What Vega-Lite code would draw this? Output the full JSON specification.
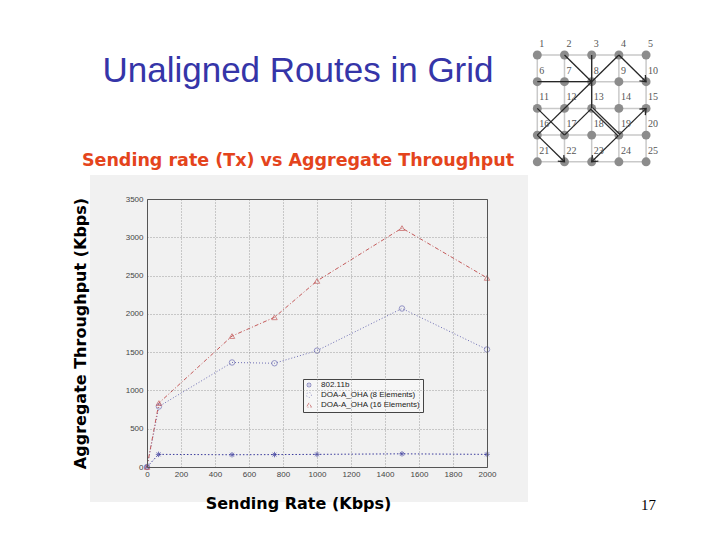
{
  "$schema": "https://vega.github.io/schema/vega-lite/v6.json",
  "width": 340,
  "height": 268,
  "autosize": {"type": "none"},
  "padding": {"left": 147, "top": 199, "right": 233, "bottom": 73},
  "background": "white",
  "config": {"view": {"stroke": null}, "axis": {"zindex": 1}},
  "title": {
    "text": "Unaligned Routes in Grid",
    "subtitle": "Sending rate (Tx) vs Aggregate Throughput",
    "anchor": "middle",
    "frame": "group",
    "dx": -19,
    "dy": 130,
    "offset": 0,
    "font": "Liberation Sans",
    "fontSize": 35,
    "fontWeight": "normal",
    "color": "#3535a8",
    "subtitleFont": "DejaVu Sans",
    "subtitleFontSize": 17.5,
    "subtitleFontWeight": "bold",
    "subtitleColor": "#e4441c",
    "subtitlePadding": 63
  },
  "datasets": {
    "series": [
      {"rate": 0, "throughput": 0, "series": "802.11b"},
      {"rate": 68, "throughput": 165, "series": "802.11b"},
      {"rate": 500, "throughput": 160, "series": "802.11b"},
      {"rate": 750, "throughput": 162, "series": "802.11b"},
      {"rate": 1000, "throughput": 165, "series": "802.11b"},
      {"rate": 1500, "throughput": 172, "series": "802.11b"},
      {"rate": 2000, "throughput": 165, "series": "802.11b"},
      {"rate": 0, "throughput": 0, "series": "DOA-A_OHA (8 Elements)"},
      {"rate": 70, "throughput": 790, "series": "DOA-A_OHA (8 Elements)"},
      {"rate": 500, "throughput": 1365, "series": "DOA-A_OHA (8 Elements)"},
      {"rate": 750, "throughput": 1355, "series": "DOA-A_OHA (8 Elements)"},
      {"rate": 1000, "throughput": 1520, "series": "DOA-A_OHA (8 Elements)"},
      {"rate": 1500, "throughput": 2070, "series": "DOA-A_OHA (8 Elements)"},
      {"rate": 2000, "throughput": 1535, "series": "DOA-A_OHA (8 Elements)"},
      {"rate": 0, "throughput": 0, "series": "DOA-A_OHA (16 Elements)"},
      {"rate": 70, "throughput": 835, "series": "DOA-A_OHA (16 Elements)"},
      {"rate": 500, "throughput": 1710, "series": "DOA-A_OHA (16 Elements)"},
      {"rate": 750, "throughput": 1955, "series": "DOA-A_OHA (16 Elements)"},
      {"rate": 1000, "throughput": 2430, "series": "DOA-A_OHA (16 Elements)"},
      {"rate": 1500, "throughput": 3120, "series": "DOA-A_OHA (16 Elements)"},
      {"rate": 2000, "throughput": 2470, "series": "DOA-A_OHA (16 Elements)"}
    ],
    "nodes": [
      {"id": 1, "col": 1, "row": 1}, {"id": 2, "col": 2, "row": 1}, {"id": 3, "col": 3, "row": 1}, {"id": 4, "col": 4, "row": 1}, {"id": 5, "col": 5, "row": 1},
      {"id": 6, "col": 1, "row": 2}, {"id": 7, "col": 2, "row": 2}, {"id": 8, "col": 3, "row": 2}, {"id": 9, "col": 4, "row": 2}, {"id": 10, "col": 5, "row": 2},
      {"id": 11, "col": 1, "row": 3}, {"id": 12, "col": 2, "row": 3}, {"id": 13, "col": 3, "row": 3}, {"id": 14, "col": 4, "row": 3}, {"id": 15, "col": 5, "row": 3},
      {"id": 16, "col": 1, "row": 4}, {"id": 17, "col": 2, "row": 4}, {"id": 18, "col": 3, "row": 4}, {"id": 19, "col": 4, "row": 4}, {"id": 20, "col": 5, "row": 4},
      {"id": 21, "col": 1, "row": 5}, {"id": 22, "col": 2, "row": 5}, {"id": 23, "col": 3, "row": 5}, {"id": 24, "col": 4, "row": 5}, {"id": 25, "col": 5, "row": 5}
    ],
    "edges": [
      {"c1": 1, "r1": 1, "c2": 5, "r2": 1, "kind": "grid"},
      {"c1": 1, "r1": 2, "c2": 5, "r2": 2, "kind": "grid"},
      {"c1": 1, "r1": 3, "c2": 5, "r2": 3, "kind": "grid"},
      {"c1": 1, "r1": 4, "c2": 5, "r2": 4, "kind": "grid"},
      {"c1": 1, "r1": 5, "c2": 5, "r2": 5, "kind": "grid"},
      {"c1": 1, "r1": 1, "c2": 1, "r2": 5, "kind": "grid"},
      {"c1": 2, "r1": 1, "c2": 2, "r2": 5, "kind": "grid"},
      {"c1": 3, "r1": 1, "c2": 3, "r2": 5, "kind": "grid"},
      {"c1": 4, "r1": 1, "c2": 4, "r2": 5, "kind": "grid"},
      {"c1": 5, "r1": 1, "c2": 5, "r2": 5, "kind": "grid"},
      {"c1": 2, "r1": 1, "c2": 3, "r2": 2, "kind": "route"},
      {"c1": 3, "r1": 1, "c2": 3, "r2": 2, "kind": "route"},
      {"c1": 3, "r1": 2, "c2": 3, "r2": 3, "kind": "route"},
      {"c1": 1, "r1": 2, "c2": 3, "r2": 2, "kind": "route"},
      {"c1": 3, "r1": 2, "c2": 4, "r2": 1, "kind": "route"},
      {"c1": 4, "r1": 1, "c2": 5, "r2": 2, "kind": "arrow"},
      {"c1": 3, "r1": 2, "c2": 1, "r2": 4, "kind": "route"},
      {"c1": 1, "r1": 4, "c2": 2, "r2": 5, "kind": "arrow"},
      {"c1": 1, "r1": 3, "c2": 2, "r2": 4, "kind": "route"},
      {"c1": 2, "r1": 4, "c2": 3, "r2": 3, "kind": "route"},
      {"c1": 3, "r1": 3, "c2": 4, "r2": 4, "kind": "double"},
      {"c1": 4, "r1": 4, "c2": 5, "r2": 3, "kind": "arrow"},
      {"c1": 4, "r1": 4, "c2": 3, "r2": 5, "kind": "arrow"}
    ]
  },
  "layer": [
    {
      "layer": [
        {
          "data": {"values": [{"panel": "figure"}]},
          "mark": {"type": "rect", "color": "#f1f1f1"},
          "encoding": {
            "x": {"datum": -335, "type": "quantitative"},
            "x2": {"datum": 2241},
            "y": {"datum": -457, "type": "quantitative"},
            "y2": {"datum": 3813}
          }
        },
        {
          "data": {"name": "series"},
          "mark": {"type": "line", "strokeWidth": 1},
          "encoding": {
            "x": {
              "field": "rate", "type": "quantitative",
              "scale": {"domain": [0, 2000], "nice": false, "zero": false},
              "axis": {
                "zindex": 1, "format": "d", "labelOverlap": false, "labelBound": false, "labelFlush": false,
                "values": [0, 200, 400, 600, 800, 1000, 1200, 1400, 1600, 1800, 2000], "tickCount": 11,
                "grid": true, "gridDash": [1, 2], "gridColor": "#8a8a8a", "gridOpacity": 0.8,
                "ticks": false, "domainColor": "#555", "labelFont": "Liberation Sans",
                "labelFontSize": 8, "labelColor": "#444", "labelPadding": 3,
                "title": "Sending Rate (Kbps)", "titleFont": "DejaVu Sans", "titleFontSize": 16,
                "titleFontWeight": "bold", "titleColor": "#000", "titlePadding": 17, "titleX": 151
              }
            },
            "y": {
              "field": "throughput", "type": "quantitative",
              "scale": {"domain": [0, 3500], "nice": false, "zero": false},
              "axis": {
                "zindex": 1, "format": "d", "labelOverlap": false, "labelBound": false, "labelFlush": false,
                "values": [0, 500, 1000, 1500, 2000, 2500, 3000, 3500], "tickCount": 8,
                "grid": true, "gridDash": [1, 2], "gridColor": "#8a8a8a", "gridOpacity": 0.8,
                "ticks": false, "domainColor": "#555", "labelFont": "Liberation Sans",
                "labelFontSize": 8, "labelColor": "#444", "labelPadding": 4,
                "title": "Aggregate Throughput (Kbps)", "titleFont": "DejaVu Sans", "titleFontSize": 16,
                "titleFontWeight": "bold", "titleColor": "#000", "titlePadding": 37
              }
            },
            "color": {
              "field": "series", "type": "nominal",
              "scale": {
                "domain": ["802.11b", "DOA-A_OHA (8 Elements)", "DOA-A_OHA (16 Elements)"],
                "range": ["#3a3a9c", "#6e6eb4", "#c45a5a"]
              },
              "legend": {
                "orient": "none", "legendX": 156, "legendY": 180, "title": null,
                "labelFont": "Liberation Sans", "labelFontSize": 8, "labelColor": "#222",
                "strokeColor": "#444", "fillColor": "#f6f6f6", "padding": 2, "rowPadding": 0,
                "symbolSize": 25, "symbolStrokeWidth": 1, "labelOffset": 8
              }
            },
            "strokeDash": {
              "field": "series", "type": "nominal",
              "scale": {
                "domain": ["802.11b", "DOA-A_OHA (8 Elements)", "DOA-A_OHA (16 Elements)"],
                "range": [[1.5, 2], [1, 2], [4, 2, 1, 2]]
              },
              "legend": null
            }
          }
        },
        {
          "data": {"name": "series"},
          "mark": {"type": "point", "filled": false, "strokeWidth": 1, "size": 30},
          "encoding": {
            "x": {"field": "rate", "type": "quantitative"},
            "y": {"field": "throughput", "type": "quantitative"},
            "color": {"field": "series", "type": "nominal"},
            "shape": {
              "field": "series", "type": "nominal",
              "scale": {
                "domain": ["802.11b", "DOA-A_OHA (8 Elements)", "DOA-A_OHA (16 Elements)"],
                "range": ["M0,-1L0,1M-1,0L1,0M-0.7,-0.7L0.7,0.7M-0.7,0.7L0.7,-0.7", "circle", "triangle-up"]
              }
            }
          }
        }
      ]
    },
    {
      "layer": [
        {
          "data": {"name": "edges"},
          "transform": [{"filter": "datum.kind === 'grid'"}],
          "mark": {"type": "rule", "color": "#c9c9c9", "strokeWidth": 1.5},
          "encoding": {
            "x": {
              "field": "c1", "type": "quantitative",
              "scale": {"domain": [-13.35, -0.849], "nice": false, "zero": false},
              "axis": {"zindex": 1, "orient": "top", "labels": false, "ticks": false, "grid": false, "domainColor": "#555", "title": null}
            },
            "x2": {"field": "c2"},
            "y": {
              "field": "r1", "type": "quantitative",
              "scale": {"domain": [6.393, 16.43], "reverse": true, "nice": false, "zero": false},
              "axis": {
                "zindex": 1,
                "orient": "right", "labels": false, "ticks": false, "grid": false, "domainColor": "#555",
                "title": "17", "titleAngle": 0, "titleX": 161, "titleY": 310, "titleAlign": "center",
                "titleBaseline": "alphabetic", "titleFont": "Liberation Serif", "titleFontSize": 15,
                "titleFontWeight": "normal", "titleColor": "#000"
              }
            },
            "y2": {"field": "r2"}
          }
        },
        {
          "data": {"name": "nodes"},
          "mark": {"type": "point", "filled": true, "color": "#8c8c8c", "size": 80, "opacity": 1},
          "encoding": {
            "x": {"field": "col", "type": "quantitative"},
            "y": {"field": "row", "type": "quantitative"}
          }
        },
        {
          "data": {"name": "edges"},
          "transform": [{"filter": "datum.kind !== 'grid'"}],
          "mark": {"type": "rule", "color": "#262626", "strokeWidth": 1.3},
          "encoding": {
            "x": {"field": "c1", "type": "quantitative"},
            "x2": {"field": "c2"},
            "y": {"field": "r1", "type": "quantitative"},
            "y2": {"field": "r2"}
          }
        },
        {
          "data": {"name": "edges"},
          "transform": [{"filter": "datum.kind === 'double'"}],
          "mark": {"type": "rule", "color": "#262626", "strokeWidth": 3.5},
          "encoding": {
            "x": {"field": "c1", "type": "quantitative"},
            "x2": {"field": "c2"},
            "y": {"field": "r1", "type": "quantitative"},
            "y2": {"field": "r2"}
          }
        },
        {
          "data": {"name": "edges"},
          "transform": [{"filter": "datum.kind === 'double'"}],
          "mark": {"type": "rule", "color": "#d8d8d8", "strokeWidth": 1.2},
          "encoding": {
            "x": {"field": "c1", "type": "quantitative"},
            "x2": {"field": "c2"},
            "y": {"field": "r1", "type": "quantitative"},
            "y2": {"field": "r2"}
          }
        },
        {
          "data": {"name": "edges"},
          "transform": [
            {"filter": "datum.kind === 'arrow'"},
            {"calculate": "atan2(datum.r2 - datum.r1, datum.c2 - datum.c1) * 180 / PI", "as": "ang"}
          ],
          "mark": {"type": "point", "shape": "M-1,-0.8L0,0L-1,0.8", "filled": false, "color": "#262626", "strokeWidth": 1.3, "size": 110, "opacity": 1},
          "encoding": {
            "x": {"field": "c2", "type": "quantitative"},
            "y": {"field": "r2", "type": "quantitative"},
            "angle": {"field": "ang", "type": "quantitative", "scale": null}
          }
        },
        {
          "data": {"name": "nodes"},
          "mark": {"type": "text", "align": "left", "baseline": "middle", "dx": 2, "dy": -11, "font": "Liberation Serif", "fontSize": 10, "color": "#555"},
          "encoding": {
            "x": {"field": "col", "type": "quantitative"},
            "y": {"field": "row", "type": "quantitative"},
            "text": {"field": "id", "type": "nominal"}
          }
        }
      ]
    }
  ],
  "resolve": {"scale": {"x": "independent", "y": "independent"}}
}
